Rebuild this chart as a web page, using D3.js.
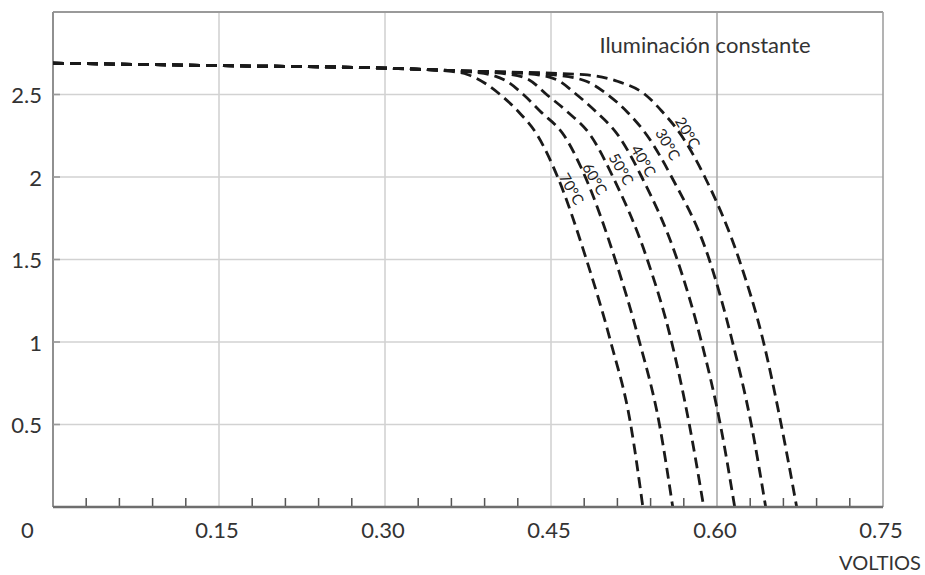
<!DOCTYPE html>
<html><head><meta charset="utf-8">
<script src="https://cdn.jsdelivr.net/npm/d3@7"></script>
<style>
html,body{margin:0;padding:0;background:#fff;}
svg{display:block;font-family:Lato,"Open Sans",sans-serif;}
</style></head>
<body><svg id="chart" width="925" height="575"></svg>
<script>
// ---- data ----
const seriesNames = ["20°C","30°C","40°C","50°C","60°C","70°C"];
const v20 = [0,0.15,0.30,0.36,0.48,0.51,0.535,0.55,0.568,0.589,0.620,0.642,0.658,0.672];
const i20 = [2.69,2.675,2.66,2.645,2.62,2.58,2.5,2.40,2.25,2.0,1.5,1.0,0.5,0];
const v30 = [0,0.15,0.30,0.36,0.45,0.48,0.501,0.518,0.537,0.559,0.593,0.614,0.631,0.644];
const i30 = [2.69,2.675,2.66,2.645,2.62,2.585,2.5,2.40,2.25,2.0,1.5,1.0,0.5,0];
const v40 = [0,0.15,0.30,0.36,0.43,0.455,0.473,0.49,0.511,0.532,0.564,0.586,0.603,0.616];
const i40 = [2.69,2.675,2.66,2.645,2.625,2.59,2.5,2.40,2.25,2.0,1.5,1.0,0.5,0];
const v50 = [0,0.15,0.30,0.36,0.41,0.43,0.446,0.464,0.486,0.506,0.537,0.559,0.575,0.588];
const i50 = [2.69,2.675,2.66,2.645,2.625,2.59,2.5,2.40,2.25,2.0,1.5,1.0,0.5,0];
const v60 = [0,0.15,0.30,0.36,0.38,0.395,0.41,0.425,0.44,0.462,0.481,0.508,0.530,0.548,0.560];
const i60 = [2.69,2.675,2.66,2.645,2.635,2.62,2.58,2.5,2.40,2.25,2.0,1.5,1.0,0.5,0];
const v70 = [0,0.15,0.30,0.36,0.375,0.39,0.404,0.42,0.438,0.456,0.482,0.504,0.522,0.533];
const i70 = [2.69,2.675,2.66,2.64,2.62,2.57,2.5,2.40,2.25,2.0,1.5,1.0,0.5,0];
const labelV = [0.574,0.556,0.534,0.514,0.490,0.469];
const labelI = [2.27,2.20,2.10,2.05,1.99,1.93];
const xTickLabels = ["0","0.15","0.30","0.45","0.60","0.75"];
const xTickValues = [0,0.15,0.30,0.45,0.60,0.75];
const yTickValues = [0.5,1,1.5,2,2.5];
const yTickLabels = ["0.5","1","1.5","2","2.5"];
const minorStep = 0.03;
const title = "Iluminación constante";
const xTitle = "VOLTIOS";

// ---- drawing ----
const svg = d3.select("#chart");
const x = d3.scaleLinear().domain([0,0.75]).range([53,883]);
const y = d3.scaleLinear().domain([0,3]).range([507,12]);

const grid = svg.append("g");
grid.selectAll("line.h").data(yTickValues).join("line")
  .attr("x1",x(0)).attr("x2",x(0.75)).attr("y1",d=>y(d)).attr("y2",d=>y(d))
  .attr("stroke","#d2d2d2").attr("stroke-width",1.6);
grid.selectAll("line.v").data(xTickValues.slice(1,-1)).join("line")
  .attr("y1",y(0)).attr("y2",y(3)).attr("x1",d=>x(d)).attr("x2",d=>x(d))
  .attr("stroke",d=>d===0.60?"#aaaaaa":"#d2d2d2").attr("stroke-width",1.6);
grid.append("line").attr("x1",x(0)).attr("x2",x(0.75)).attr("y1",y(3)).attr("y2",y(3))
  .attr("stroke","#9a9a9a").attr("stroke-width",2);
grid.append("line").attr("x1",x(0.75)).attr("x2",x(0.75)).attr("y1",y(3)).attr("y2",y(0))
  .attr("stroke","#a0a0a0").attr("stroke-width",1.6);
grid.append("line").attr("x1",x(0)).attr("x2",x(0)).attr("y1",y(3)).attr("y2",y(0))
  .attr("stroke","#909090").attr("stroke-width",2);
grid.selectAll("line.yt").data(yTickValues).join("line")
  .attr("x1",x(0)).attr("x2",x(0)+7).attr("y1",d=>y(d)).attr("y2",d=>y(d))
  .attr("stroke","#999").attr("stroke-width",1.6);
const minor = d3.range(1,25).map(k=>+(k*minorStep).toFixed(2)).filter(v=>Math.abs(v/0.15-Math.round(v/0.15))>1e-6);
grid.selectAll("line.mt").data(minor).join("line")
  .attr("x1",d=>x(d)).attr("x2",d=>x(d)).attr("y1",y(0)).attr("y2",y(0)-9)
  .attr("stroke","#555").attr("stroke-width",1.5);

// curves
const vs=[v20,v30,v40,v50,v60,v70], is=[i20,i30,i40,i50,i60,i70];
const line = d3.line().x(d=>x(d[0])).y(d=>y(d[1])).curve(d3.curveMonotoneX);
vs.forEach((v,k)=>{
  const pts = v.map((vv,j)=>[vv,is[k][j]]);
  svg.append("path").attr("d",line(pts)).attr("fill","none")
    .attr("stroke","#1a1a1a").attr("stroke-width",2.8).attr("stroke-dasharray","11,6");
});

svg.append("line").attr("x1",x(0)).attr("x2",x(0.75)).attr("y1",y(0)).attr("y2",y(0))
  .attr("stroke","#6e6e6e").attr("stroke-width",2.6);

// curve labels
seriesNames.forEach((n,k)=>{
  const cx=x(labelV[k]), cy=y(labelI[k]);
  svg.append("text").attr("transform",`translate(${cx},${cy}) rotate(60)`)
    .attr("text-anchor","middle").attr("dominant-baseline","central")
    .attr("font-size",15).attr("fill","#222").text(n);
});

svg.selectAll("text.yl").data(yTickValues).join("text")
  .attr("x",42).attr("y",d=>y(d)).attr("text-anchor","end").attr("dominant-baseline","central")
  .attr("font-size",22).attr("fill","#333").text((d,i)=>yTickLabels[i]);
svg.selectAll("text.xl").data(xTickValues).join("text")
  .attr("x",(d,i)=>i===0?27.5:x(d)-2).attr("y",529).attr("text-anchor","middle").attr("dominant-baseline","central")
  .attr("font-size",22).attr("fill","#333").text((d,i)=>xTickLabels[i]);
svg.append("text").attr("x",705).attr("y",44).attr("text-anchor","middle").attr("dominant-baseline","central")
  .attr("font-size",22).attr("fill","#333").text(title);
svg.append("text").attr("x",880).attr("y",562).attr("text-anchor","middle").attr("dominant-baseline","central")
  .attr("font-size",20).attr("fill","#333").text(xTitle);
</script></body></html>
